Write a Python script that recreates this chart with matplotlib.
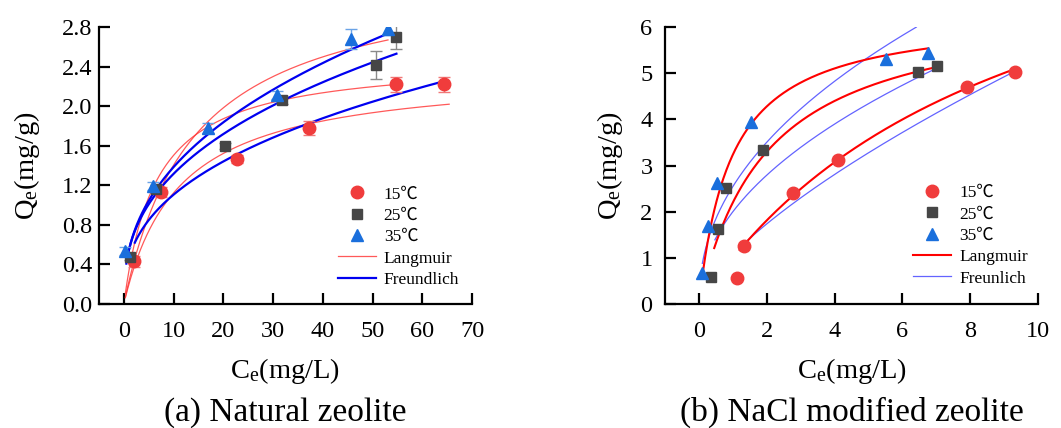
import matplotlib
matplotlib.use('Agg')
import matplotlib.pyplot as plt
import numpy as np
from matplotlib.lines import Line2D

plt.rcParams['font.family'] = ['Liberation Serif', 'Noto Sans CJK SC']
plt.rcParams['mathtext.fontset'] = 'custom'
plt.rcParams['mathtext.rm'] = 'Liberation Serif'
plt.rcParams['mathtext.it'] = 'Liberation Serif:italic'

# ---- (a) zeolite naturale: dati sperimentali ----
nat_x15 = [2.1, 7.5, 22.7, 37.2, 54.8, 64.3]
nat_q15 = [0.43, 1.13, 1.47, 1.78, 2.22, 2.22]
nat_e15 = [0.06, 0.05, 0.04, 0.07, 0.08, 0.08]

nat_x25 = [1.2, 6.5, 20.4, 31.7, 50.6, 54.8]
nat_q25 = [0.48, 1.16, 1.60, 2.06, 2.42, 2.70]
nat_e25 = [0.04, 0.04, 0.03, 0.04, 0.14, 0.12]

nat_x35 = [0.2, 5.9, 17.0, 30.8, 45.6, 53.1]
nat_q35 = [0.54, 1.19, 1.78, 2.11, 2.68, 2.78]
nat_e35 = [0.04, 0.04, 0.05, 0.04, 0.10, 0.06]

# parametri dei fit (qm, KL) e (KF, 1/n), intervallo di Ce
nat_lang = {15: (2.36, 0.0909, 0.3, 65.4), 25: (2.484, 0.1534, 0.3, 54.8), 35: (3.375, 0.0713, 0.3, 53.1)}
nat_freu = {15: (0.459, 0.382, 2.2, 64.3), 25: (0.544, 0.384, 1.0, 54.8), 35: (0.542, 0.4075, 0.5, 53.3)}

# ---- (b) zeolite modificata NaCl ----
mod_x15 = [1.13, 1.33, 2.76, 4.09, 7.91, 9.32]
mod_q15 = [0.57, 1.26, 2.40, 3.13, 4.71, 5.03]

mod_x25 = [0.37, 0.57, 0.81, 1.89, 6.46, 7.02]
mod_q25 = [0.59, 1.62, 2.52, 3.34, 5.03, 5.15]

mod_x35 = [0.08, 0.27, 0.54, 1.53, 5.52, 6.76]
mod_q35 = [0.68, 1.69, 2.63, 3.95, 5.30, 5.44]

mod_lang = {15: (10.08, 0.1096, 1.2, 9.35), 25: (6.6, 0.5, 0.45, 7.02), 35: (6.32, 1.05, 0.12, 6.76)}
mod_freu = {15: (1.074, 0.693, 1.23, 9.4), 25: (2.0, 0.4816, 0.47, 7.1), 35: (2.546, 0.4614, 0.1, 6.41)}

c15, c25, c35 = '#f03c3c', '#464646', '#1a6fdc'
e15, e25, e35 = '#f07878', '#8a8a8a', '#6aa3e6'

TICK_FS = 17.5
LAB_FS = 20.5
LEG_FS = 12.5


def langmuir(c, qm, k):
    return qm * k * c / (1 + k * c)


def freundlich(c, kf, invn):
    return kf * c ** invn


def style_axes(ax):
    for s in ['top', 'right']:
        ax.spines[s].set_visible(False)
    for s in ['left', 'bottom']:
        ax.spines[s].set_linewidth(1.6)
    ax.tick_params(direction='in', length=8, width=1.6, labelsize=TICK_FS)


fig = plt.figure(figsize=(10.61, 4.28), dpi=100)
ax1 = fig.add_axes([0.0933, 0.2897, 0.3516, 0.647])
ax2 = fig.add_axes([0.6268, 0.2897, 0.3516, 0.647])

# pannello (a)
for t in [15, 25, 35]:
    qm, k, a, b = nat_lang[t]
    cc = np.linspace(a, b, 300)
    ax1.plot(cc, langmuir(cc, qm, k), color='#ff3030', lw=0.9, alpha=0.8)
for t in [15, 25, 35]:
    kf, invn, a, b = nat_freu[t]
    cc = np.linspace(a, b, 300)
    ax1.plot(cc, freundlich(cc, kf, invn), color='#0000f0', lw=1.6)

ax1.errorbar(nat_x15, nat_q15, yerr=nat_e15, fmt='o', color=c15, ecolor=e15, ms=9, capsize=4, elinewidth=1, capthick=1, zorder=5)
ax1.errorbar(nat_x25, nat_q25, yerr=nat_e25, fmt='s', color=c25, ecolor=e25, ms=7.5, capsize=4, elinewidth=1, capthick=1, zorder=5)
ax1.errorbar(nat_x35, nat_q35, yerr=nat_e35, fmt='^', color=c35, ecolor=e35, ms=9, capsize=4, elinewidth=1, capthick=1, zorder=5)

ax1.set_xlim(-5, 70)
ax1.set_ylim(0, 2.8)
ax1.set_xticks(np.arange(0, 71, 10))
ax1.set_yticks(np.arange(0, 2.81, 0.4))
ax1.set_yticklabels(['%.1f' % v for v in np.arange(0, 2.81, 0.4)])
style_axes(ax1)
ax1.tick_params(axis='x', pad=12)
ax1.tick_params(axis='y', pad=5)
ax1.set_xlabel('C$_\\mathrm{e}$(mg/L)', fontsize=LAB_FS, labelpad=10)
ax1.set_ylabel('Q$_\\mathrm{e}$(mg/g)', fontsize=LAB_FS, labelpad=14)

h1 = [Line2D([], [], marker='o', ls='none', color=c15, ms=9),
      Line2D([], [], marker='s', ls='none', color=c25, ms=7.5),
      Line2D([], [], marker='^', ls='none', color=c35, ms=9),
      Line2D([], [], color='#ff3030', lw=0.9, alpha=0.8),
      Line2D([], [], color='#0000f0', lw=1.6)]
ax1.legend(h1, ['15℃', '25℃', '35℃', 'Langmuir', 'Freundlich'], loc='upper left',
           bbox_to_anchor=(0.64, 0.425), frameon=False, fontsize=LEG_FS, handlelength=2.2,
           handletextpad=0.45, labelspacing=0.3, borderpad=0, borderaxespad=0)

# pannello (b)
for t in [15, 25, 35]:
    kf, invn, a, b = mod_freu[t]
    cc = np.linspace(a, b, 300)
    ax2.plot(cc, freundlich(cc, kf, invn), color='#4848ff', lw=0.9, alpha=0.85)
for t in [15, 25, 35]:
    qm, k, a, b = mod_lang[t]
    cc = np.linspace(a, b, 300)
    ax2.plot(cc, langmuir(cc, qm, k), color='#ff0000', lw=1.5)

ax2.plot(mod_x15, mod_q15, 'o', color=c15, ms=9, zorder=5)
ax2.plot(mod_x25, mod_q25, 's', color=c25, ms=7.5, zorder=5)
ax2.plot(mod_x35, mod_q35, '^', color=c35, ms=9, zorder=5)

ax2.set_xlim(-1, 10)
ax2.set_ylim(0, 6)
ax2.set_xticks(np.arange(0, 11, 2))
ax2.set_yticks(np.arange(0, 7, 1))
style_axes(ax2)
ax2.tick_params(axis='x', pad=12)
ax2.tick_params(axis='y', pad=9)
ax2.set_xlabel('C$_\\mathrm{e}$(mg/L)', fontsize=LAB_FS, labelpad=10)
ax2.set_ylabel('Q$_\\mathrm{e}$(mg/g)', fontsize=LAB_FS, labelpad=11)

h2 = [Line2D([], [], marker='o', ls='none', color=c15, ms=9),
      Line2D([], [], marker='s', ls='none', color=c25, ms=7.5),
      Line2D([], [], marker='^', ls='none', color=c35, ms=9),
      Line2D([], [], color='#ff0000', lw=1.5),
      Line2D([], [], color='#4848ff', lw=0.9, alpha=0.85)]
ax2.legend(h2, ['15℃', '25℃', '35℃', 'Langmuir', 'Freunlich'], loc='upper left',
           bbox_to_anchor=(0.665, 0.43), frameon=False, fontsize=LEG_FS, handlelength=2.2,
           handletextpad=0.45, labelspacing=0.3, borderpad=0, borderaxespad=0)

fig.text(0.269, 0.037, '(a) Natural zeolite', ha='center', va='center', fontsize=24)
fig.text(0.8025, 0.037, '(b) NaCl modified zeolite', ha='center', va='center', fontsize=24)

fig.savefig('out.png', dpi=100)
